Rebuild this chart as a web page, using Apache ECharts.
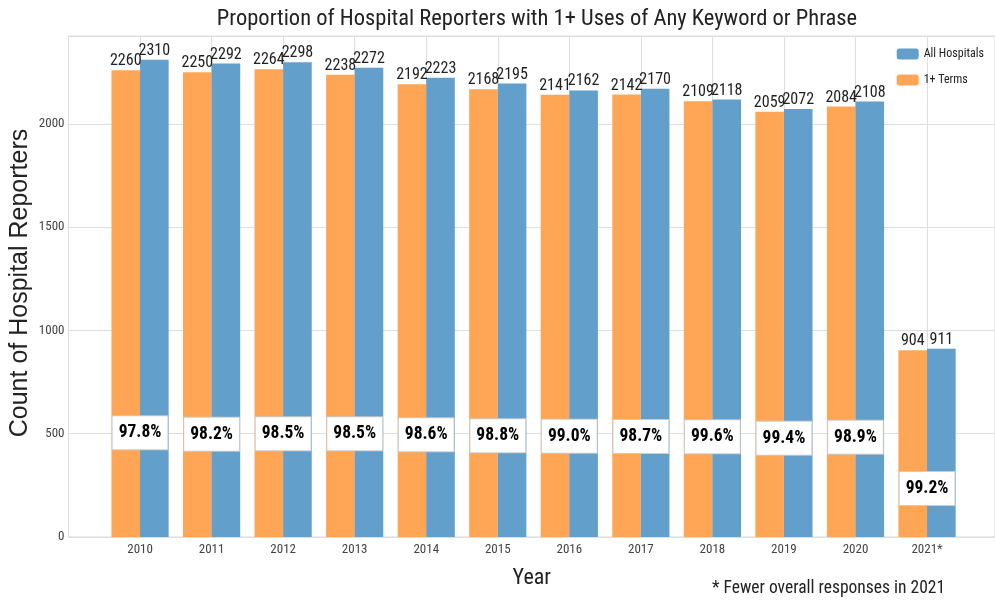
<!DOCTYPE html>
<html><head><meta charset="utf-8">
<script src="https://cdn.jsdelivr.net/npm/echarts@6/dist/echarts.min.js"></script>
<style>html,body{margin:0;padding:0;background:#fff}#c{width:995px;height:601px}</style>
</head><body><div id="c"></div>
<script>
const years = ['2010','2011','2012','2013','2014','2015','2016','2017','2018','2019','2020','2021*'];
const termsCounts = [2260,2250,2264,2238,2192,2168,2141,2142,2109,2059,2084,904];
const allCounts = [2310,2292,2298,2272,2223,2195,2162,2170,2118,2072,2108,911];
const percentLabels = ['97.8%','98.2%','98.5%','98.5%','98.6%','98.8%','99.0%','98.7%','99.6%','99.4%','98.9%','99.2%'];
const percentY = [505,498,500,500,495,490,488,486,485,478,483,235];
const yTicks = [0,500,1000,1500,2000];

const F = '"Roboto Condensed","Liberation Sans",Arial,sans-serif';
const chart = echarts.init(document.getElementById('c'), null, {renderer:'canvas'});
const orange = '#FFA656', blue = '#62A0CB';
chart.setOption({
  animation:false,
  title:{text:'Proportion of Hospital Reporters with 1+ Uses of Any Keyword or Phrase', left:532, top:3, textAlign:'center',
    textStyle:{fontFamily:F, fontSize:22.5, fontWeight:'normal', color:'#222'}},
  legend:{data:['All Hospitals','1+ Terms'], orient:'vertical', right:6, top:43, itemWidth:22, itemHeight:11, itemGap:14,
    textStyle:{fontFamily:F, fontSize:12, color:'#222'}},
  grid:{left:68.5, right:0, top:36, bottom:64, show:true, borderColor:'#d8d8d8', borderWidth:1, containLabel:false, outerBoundsMode:'none'},
  xAxis:{type:'value', min:-1, max:11.95, interval:1,
    name:'Year', nameLocation:'middle', nameGap:30, nameTextStyle:{fontFamily:F, fontSize:22, color:'#222'},
    axisLine:{show:false}, axisTick:{show:false},
    splitLine:{show:true, lineStyle:{color:'#dedede', width:1}},
    axisLabel:{fontFamily:F, fontSize:13, color:'#444', margin:6, showMaxLabel:false,
      formatter:v=>{const i=Math.round(v); return (i>=0 && i<years.length && Math.abs(v-i)<1e-6)?years[i]:'';}}},
  yAxis:{type:'value', min:0, max:2425.5, interval:500,
    axisLine:{show:false}, axisTick:{show:false},
    splitLine:{show:true, lineStyle:{color:'#dedede', width:1}},
    axisLabel:{fontFamily:F, fontSize:13, color:'#444', margin:4, showMaxLabel:false,
      formatter:v=>yTicks.includes(v)?String(v):''}},
  series:[
    {name:'1+ Terms', type:'bar', barWidth:28.6, barGap:'0%', data:termsCounts.map((v,i)=>[i,v]),
      itemStyle:{color:orange},
      label:{show:true, position:'top', distance:1, fontFamily:F, fontSize:16, color:'#222', formatter:p=>p.value[1]}},
    {name:'All Hospitals', type:'bar', barWidth:28.6, barGap:'0%', data:allCounts.map((v,i)=>[i,v]),
      itemStyle:{color:blue},
      label:{show:true, position:'top', distance:1, fontFamily:F, fontSize:16, color:'#222', formatter:p=>p.value[1]}},
    {name:'pct', type:'scatter', symbolSize:0, z:10, itemStyle:{opacity:1}, data:percentY.map((v,i)=>[i,v]),
      label:{show:true, position:'inside', formatter:p=>percentLabels[p.dataIndex], fontFamily:F, fontSize:17.5, fontWeight:'bold',
        color:'#000', backgroundColor:'#fff', borderColor:'#ccc', borderWidth:1, padding:[8,6,7,6], opacity:1}}
  ],
  graphic:[
    {type:'text', left:712, top:580, style:{text:'* Fewer overall responses in 2021', font:'17.5px '+F, fill:'#222'}},
    {type:'text', x:20, y:283, rotation:Math.PI/2, style:{text:'Count of Hospital Reporters', font:'25px "Liberation Sans",Arial,sans-serif', fill:'#222', align:'center', verticalAlign:'middle'}}
  ]
});
</script></body></html>
